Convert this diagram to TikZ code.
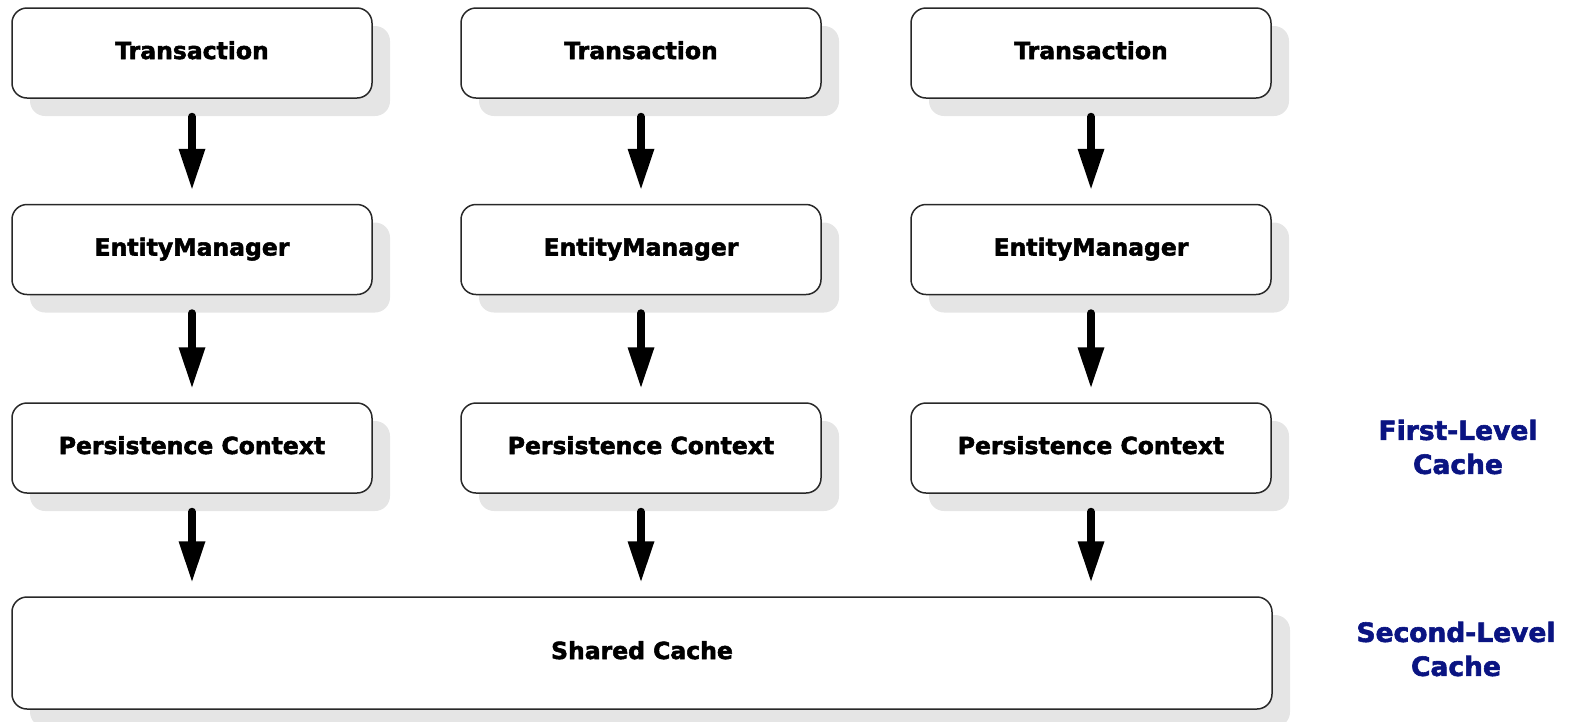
\documentclass[tikz,border=0pt]{standalone}
\usepackage{fontspec}
\setmainfont{DejaVu Sans}[BoldFeatures={FakeBold=2.2}]
\usetikzlibrary{arrows.meta,shadows}
\definecolor{labelblue}{RGB}{10,20,130}
\definecolor{shadowgray}{RGB}{229,229,229}
\definecolor{edgegray}{RGB}{40,40,40}
\tikzset{
  stepbox/.style={draw=edgegray, line width=1.5pt, fill=white,
    rounded corners=15pt, minimum width=360pt, minimum height=90pt,
    font=\fontsize{23.5}{28}\selectfont\bfseries,
    text height=17pt, text depth=5pt, inner sep=0pt,
    drop shadow={shadow xshift=18pt, shadow yshift=-18pt,
      fill=shadowgray, opacity=1, draw=none}},
  flow/.style={line width=8pt, line cap=round, draw=black,
    -{Triangle[width=27pt,length=40pt,line width=0pt,round=false]},
    shorten <=18pt, shorten >=15pt},
  levellabel/.style={text=labelblue, align=center,
    font=\fontsize{26.5}{34}\selectfont\bfseries}
}
\begin{document}
\begin{tikzpicture}[x=1pt,y=-1pt]
  \useasboundingbox (0,0) rectangle (1574,721);

  % three columns of Transaction -> EntityManager -> Persistence Context
  \foreach \i/\cx in {1/192,2/641,3/1091}{
    \node[stepbox] (t\i) at (\cx,53) {Transaction};
    \node[stepbox] (e\i) at (\cx,249.5) {EntityManager};
    \node[stepbox] (p\i) at (\cx,448) {Persistence Context};
  }

  % shared cache spanning all columns
  \node[stepbox, minimum width=1260pt, minimum height=112pt] (s) at (642,653) {Shared Cache};

  % downward flow arrows
  \foreach \i in {1,2,3}{
    \draw[flow] (t\i.south) -- (e\i.north);
    \draw[flow] (e\i.south) -- (p\i.north);
    \draw[flow] (p\i.south) -- (p\i.south |- s.north);
  }

  % cache level labels
  \node[levellabel] (l1) at (1458,447) {First-Level\\Cache};
  \node[levellabel] (l2) at (1456,649) {Second-Level\\Cache};
\end{tikzpicture}
\end{document}
